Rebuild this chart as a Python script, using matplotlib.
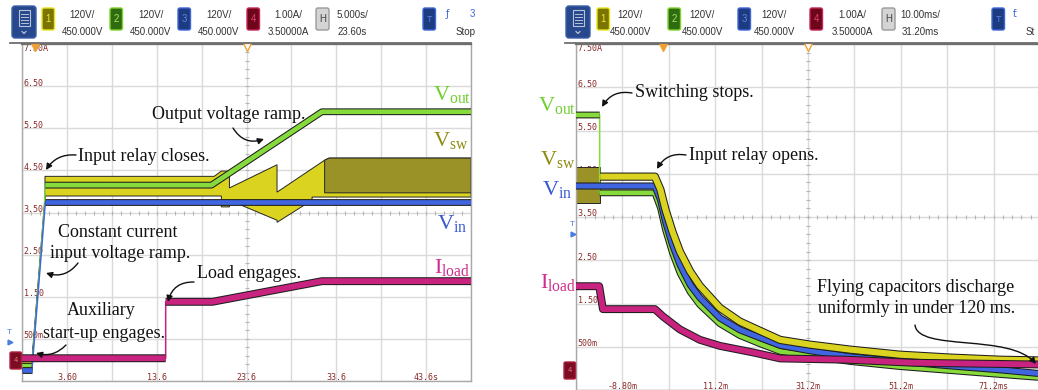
import numpy as np
import matplotlib.pyplot as plt
import matplotlib.patheffects as pe
from matplotlib.patches import FancyBboxPatch, FancyArrowPatch, Rectangle
from matplotlib.path import Path

W, H = 1038, 390

plt.rcParams['mathtext.fontset'] = 'custom'
plt.rcParams['mathtext.rm'] = 'Liberation Serif'

# scope setting of the voltage channels: 120 V/div, 450 V offset.
# current channel is 1 A/div, 3.5 A offset -> screen units read directly in A
V_PER_DIV = 120.0
V_OFFSET = 450.0
A_CENTER = 3.5

y_lbl_val = [7.5, 6.5, 5.5, 4.5, 3.5, 2.5, 1.5, 0.5]
y_lbl_txt = ['7.50A', '6.50', '5.50', '4.50', '3.50', '2.50', '1.50', '500m']

# ---------- left capture: start-up, 5 s/div ----------
A_T0, A_DT = -1.4, 5.0
a_xtick_t = [3.6, 13.6, 23.6, 33.6, 43.6]
a_xtick_lbl = ['3.60', '13.6', '23.6', '33.6', '43.6s']

a_vin_t = [-1.4, -0.3, 1.2, 48.6]
a_vin_v = [0, 0, 480, 480]

a_vout_t = [-1.4, -0.3, 1.1, 1.2, 19.7, 32.0, 48.6]
a_vout_v = [12, 12, 470, 528, 528, 737, 737]

a_vsw_top_t = [-1.4, -0.3, 1.16, 1.16, 20.0, 20.8, 21.7, 21.7, 27.0, 27.0, 32.3, 32.8, 48.6]
a_vsw_top_v = [30, 30, 495, 553, 553, 568, 568, 520, 586, 508, 599, 605, 605]
a_vsw_bot_t = [-1.4, -0.3, 1.16, 1.16, 20.8, 20.8, 21.7, 21.7, 27.0, 27.0, 30.9, 30.9, 48.6]
a_vsw_bot_v = [18, 18, 482, 497, 497, 466, 466, 485, 428, 422, 485, 494, 494]
# full-switching part of the band (darker on screen)
a_vsw_dark_t = [32.3, 32.8, 48.6]
a_vsw_dark_top = [599, 605, 605]
a_vsw_dark_bot = [506, 506, 506]

a_iload_t = [-1.4, 14.6, 14.6, 19.8, 32.0, 48.6]
a_iload_a = [0.04, 0.04, 1.38, 1.38, 1.87, 1.87]

# ---------- right capture: shut-down, 10 ms/div ----------
B_T0, B_DT = -18.8, 10.0
b_xtick_t = [-8.8, 11.2, 31.2, 51.2, 71.2]
b_xtick_lbl = ['-8.80m', '11.2m', '31.2m', '51.2m', '71.2ms']

b_fall_t = [-1.8, -0.6, 0.5, 2.0, 3.6, 5.8, 7.9, 12.2, 16.5, 20.9, 25.2, 31.6, 40.3, 51.0, 61.8, 72.6, 80.8]
b_vsw_fall = [562, 526, 470, 409, 354, 299, 259, 198, 160, 134, 109, 96, 82, 68, 60, 54, 52]
b_vin_fall = [536, 498, 437, 373, 318, 262, 226, 170, 137, 115, 94, 79, 62, 49, 37, 26, 16]
b_vout_fall = [517, 475, 414, 350, 295, 242, 206, 154, 121, 98, 77, 65, 49, 35, 24, 13, 5]

b_vout_pre_t = [-18.8, -13.7, -13.7]
b_vout_pre_v = [733, 733, 517]
b_vin_pre_t = [-18.8]
b_vin_pre_v = [536]
b_vsw_pre_t = [-13.6]
b_vsw_pre_v = [562]
b_vsw_band_t = [-18.8, -13.7]
b_vsw_band_top = [590, 590]
b_vsw_band_bot = [490, 490]

b_iload_t = [-18.8, -13.8, -13.0, -1.8, -0.05, 3.6, 7.9, 12.2, 19.3, 25.2, 39.6, 53.8, 80.8]
b_iload_a = [1.9, 1.9, 1.37, 1.37, 1.2, 0.9, 0.66, 0.52, 0.37, 0.23, 0.20, 0.13, 0.09]

YEL = '#dad31f'
OLIVE = '#9a9226'
GRN = '#86da3c'
BLU = '#3f66e0'
MAG = '#c8237f'
TICKRED = '#8b2a2a'


def to_div(v):
    return A_CENTER + (np.asarray(v, float) - V_OFFSET) / V_PER_DIV


fig = plt.figure(figsize=(W / 100, H / 100), dpi=100)


def scope_axes(rect, t0, dt, xt, xl, top_pad):
    ax = fig.add_axes(rect)
    ax.set_xlim(t0, t0 + 10 * dt)
    ax.set_ylim(-0.5, 7.5)
    ax.set_xticks([t0 + i * dt for i in range(11)])
    ax.set_yticks(np.arange(-0.5, 7.6, 1.0))
    ax.grid(True, color='#dadada', lw=1.0)
    ax.set_axisbelow(True)
    ax.tick_params(length=0, labelbottom=False, labelleft=False)
    for s in ax.spines.values():
        s.set_color('#a8a8a8')
        s.set_linewidth(1.0)
    ax.spines['top'].set_color('#6e6e6e')
    ax.spines['top'].set_linewidth(1.6)
    tc = t0 + 5 * dt
    # small division marks on the centre lines
    ax.plot(t0 + np.arange(1, 50) * dt / 5, np.full(49, 3.5), '|', ms=3.5,
            color='#b5b5b5', mew=0.8, zorder=1)
    ax.plot(np.full(39, tc), -0.5 + np.arange(1, 40) / 5, '_', ms=3.5,
            color='#b5b5b5', mew=0.8, zorder=1)
    yt = ax.get_yaxis_transform()
    for val, s in zip(y_lbl_val, y_lbl_txt):
        yy = val - top_pad if val == 7.5 else val + 0.07
        ax.text(0.004, yy, s, transform=yt, color=TICKRED, fontsize=6,
                family='DejaVu Sans Mono', ha='left', va='center', zorder=2)
    for t, s in zip(xt, xl):
        ax.text(t, -0.41, s, color=TICKRED, fontsize=6, family='DejaVu Sans Mono',
                ha='center', va='center', zorder=2)
    # trigger markers at the top edge
    ax.plot(0, 7.43, 'v', color='#f0a030', ms=5.5, clip_on=False, zorder=8)
    ax.plot(tc, 7.43, 'v', mfc='white', mec='#f0a030', ms=5.5, mew=1.0, clip_on=False, zorder=8)
    return ax


def trace(ax, t, y, color, lw=3.6, z=3):
    t = np.asarray(t, float)
    y = np.asarray(y, float)
    pts = ax.transData.transform(np.column_stack([t, y]))
    ax.plot(t, y, color=color, lw=1.1, zorder=z)
    tt, yy = [t[0]], [y[0]]
    for i in range(1, len(t)):
        dx = abs(pts[i, 0] - pts[i - 1, 0])
        dy = abs(pts[i, 1] - pts[i - 1, 1])
        if dy > 8 * max(dx, 1e-6):  # steep jumps stay thin like on the scope
            tt.append(np.nan)
            yy.append(np.nan)
        tt.append(t[i])
        yy.append(y[i])
    ax.plot(tt, yy, color=color, lw=lw, solid_capstyle='butt', zorder=z,
            path_effects=[pe.Stroke(linewidth=lw + 1.5, foreground='#1e1e1e'), pe.Normal()])


def band(ax, t_top, v_top, t_bot, v_bot, color, z=2):
    xs = np.r_[t_top, t_bot[::-1]]
    ys = np.r_[to_div(v_top), to_div(v_bot)[::-1]]
    ax.fill(xs, ys, facecolor=color, edgecolor='#262626', lw=0.7, zorder=z)


# ---------- left panel ----------
ax1 = scope_axes([22 / W, 1 - 381 / H, 449 / W, 337 / H], A_T0, A_DT,
                 a_xtick_t, a_xtick_lbl, 0.1)
band(ax1, a_vsw_top_t, a_vsw_top_v, a_vsw_bot_t, a_vsw_bot_v, YEL)
band(ax1, a_vsw_dark_t, a_vsw_dark_top, a_vsw_dark_t, a_vsw_dark_bot, OLIVE, z=2.1)
trace(ax1, a_vout_t, to_div(a_vout_v), GRN, lw=3.4, z=3)
trace(ax1, a_vin_t, to_div(a_vin_v), BLU, lw=3.4, z=4)
trace(ax1, a_iload_t, a_iload_a, MAG, lw=4.2, z=5)

# ---------- right panel ----------
ax2 = scope_axes([576 / W, 0, 464 / W, 346 / H], B_T0, B_DT,
                 b_xtick_t, b_xtick_lbl, 0.1)
band(ax2, b_vsw_band_t, b_vsw_band_top, b_vsw_band_t, b_vsw_band_bot, OLIVE)
trace(ax2, b_vout_pre_t + b_fall_t, to_div(b_vout_pre_v + b_vout_fall), GRN, lw=3.4, z=3)
trace(ax2, b_vin_pre_t + b_fall_t, to_div(b_vin_pre_v + b_vin_fall), BLU, lw=3.6, z=4)
trace(ax2, b_vsw_pre_t + b_fall_t, to_div(b_vsw_pre_v + b_vsw_fall), YEL, lw=4.4, z=4.5)
trace(ax2, b_iload_t, b_iload_a, MAG, lw=4.2, z=5)

# ---------- overlay in pixel coordinates ----------
ov = fig.add_axes([0, 0, 1, 1], zorder=10)
ov.set_xlim(0, W)
ov.set_ylim(H, 0)
ov.axis('off')

CH_BOX = [('1', '#7b7500', '#e6e619', '#e8e83a'),
          ('2', '#2f6b10', '#7fd32a', '#a6e35a'),
          ('3', '#1d3b80', '#3f66d8', '#5b84e8'),
          ('4', '#6d0618', '#c8235a', '#e0407a')]
CH_TXT = [('120V/', '450.000V'), ('120V/', '450.000V'), ('120V/', '450.000V'),
          ('1.00A/', '3.50000A')]


def rbox(x, y, w, h, fc, ec, r=2.0, lw=1.0):
    ov.add_patch(FancyBboxPatch((x, y), w, h, boxstyle=f'round,pad=0,rounding_size={r}',
                                fc=fc, ec=ec, lw=lw))


def toolbar(menu_x, box_x, txt_x, h_x, h_txt_x, h_txt, t_x, line_x0, line_x1):
    rbox(menu_x, 6, 24, 32, '#27488c', '#3a5fa8', r=3)
    ov.add_patch(Rectangle((menu_x + 6.5, 10), 11, 16, fill=False, ec='#b8c2d8', lw=0.8))
    for yy in [14, 17, 20, 23]:
        ov.plot([menu_x + 8.5, menu_x + 15.5], [yy, yy], color='#b8c2d8', lw=0.7)
    ov.plot([menu_x + 10, menu_x + 12, menu_x + 14], [31.5, 33.5, 31.5], color='#c8d0e0', lw=0.8)
    for (lab, fc, ec, tcol), bx, tx, (l1, l2) in zip(CH_BOX, box_x, txt_x, CH_TXT):
        rbox(bx, 8, 12.5, 22, fc, ec)
        ov.text(bx + 6.2, 19, lab, color=tcol, fontsize=7, ha='center', va='center',
                family='Liberation Sans')
        ov.text(tx, 15, l1, color='#333333', fontsize=7, ha='center', va='center',
                family='Liberation Sans')
        ov.text(tx, 32, l2, color='#333333', fontsize=7, ha='center', va='center',
                family='Liberation Sans')
    rbox(h_x, 8, 13, 22, '#d4d4d4', '#9a9a9a')
    ov.text(h_x + 6.5, 19, 'H', color='#444444', fontsize=7, ha='center', va='center',
            family='Liberation Sans')
    ov.text(h_txt_x, 15, h_txt[0], color='#333333', fontsize=7, ha='center', va='center',
            family='Liberation Sans')
    ov.text(h_txt_x, 32, h_txt[1], color='#333333', fontsize=7, ha='center', va='center',
            family='Liberation Sans')
    rbox(t_x, 8, 12.5, 22, '#1d3b80', '#3f66d8')
    ov.text(t_x + 6.2, 19, 'T', color='#5b84e8', fontsize=6.5, ha='center', va='center',
            family='Liberation Sans')
    ov.plot([line_x0, line_x1], [43.3, 43.3], color='#707070', lw=1.3)


toolbar(12, [42, 110, 178, 247], [82, 151, 219, 288], 316, 352, ('5.000s/', '23.60s'), 423, 10, 471)
ov.text(447, 14, 'ƒ', color='#3f66d8', fontsize=7, ha='center', va='center')
ov.text(472, 14, '3', color='#3f66d8', fontsize=7, ha='center', va='center', family='Liberation Sans')
ov.text(466, 32, 'Stop', color='#333333', fontsize=7, ha='center', va='center', family='Liberation Sans')

toolbar(566, [597, 668, 738, 810], [630, 702, 774, 852], 882, 920, ('10.00ms/', '31.20ms'), 992, 565, 1038)
ov.text(1015, 14, 'ƭ', color='#3f66d8', fontsize=7, ha='center', va='center')
# the screenshot is cropped through the word "Stop" here
ov.text(1026, 32, 'St', color='#333333', fontsize=7, ha='left', va='center', family='Liberation Sans')

# side markers (trigger level and channel-4 ground)
for (tx, ty), (gx, gy) in [((9, 333), (10, 352)), ((572, 225), (564, 362))]:
    ov.text(tx, ty, 'T', color='#4a7ee0', fontsize=6, ha='center', va='center', family='Liberation Sans')
    ov.plot(tx + 1, ty + 9, '>', ms=3.5, color='#4a7ee0')
    rbox(gx, gy, 11.5, 17, '#7a0d22', '#b02040', r=1.5)
    ov.text(gx + 5.7, gy + 8.5, '4', color='#e07090', fontsize=5, ha='center', va='center')

# channel labels
SERIF = 'Liberation Serif'
LBL = [(433, 100, 'V$_{\\mathrm{out}}$', '#6fcf2e'),
       (433, 146, 'V$_{\\mathrm{sw}}$', '#8e8b12'),
       (437, 229, 'V$_{\\mathrm{in}}$', '#3557d0'),
       (434, 273, 'I$_{\\mathrm{load}}$', '#d12d8f'),
       (538, 111, 'V$_{\\mathrm{out}}$', '#6fcf2e'),
       (540, 165, 'V$_{\\mathrm{sw}}$', '#8e8b12'),
       (542, 195, 'V$_{\\mathrm{in}}$', '#3557d0'),
       (540, 288, 'I$_{\\mathrm{load}}$', '#d12d8f')]
for x, y, s, c in LBL:
    ov.text(x, y, s, color=c, fontsize=16, family=SERIF, ha='left', va='baseline')

# annotation text
NOTES = [(152, 119, 'Output voltage ramp.', 'left'),
         (78, 161, 'Input relay closes.', 'left'),
         (58, 237, 'Constant current', 'left'),
         (50, 258, 'input voltage ramp.', 'left'),
         (197, 278, 'Load engages.', 'left'),
         (67, 315, 'Auxiliary', 'left'),
         (43, 338, 'start-up engages.', 'left'),
         (635, 97, 'Switching stops.', 'left'),
         (689, 160, 'Input relay opens.', 'left'),
         (916, 292, 'Flying capacitors discharge', 'center'),
         (917, 313, 'uniformly in under 120 ms.', 'center')]
for x, y, s, ha in NOTES:
    ov.text(x, y, s, color='#111111', fontsize=13, family=SERIF, ha=ha, va='baseline')

ARROWS = [((233, 128), (264, 139), 0.4),
          ((76, 155), (46, 170), 0.3),
          ((78, 263), (46, 273), -0.35),
          ((194, 282), (168, 302), 0.4),
          ((66, 345), (36, 353), -0.3),
          ((632, 93), (602, 107), 0.35),
          ((686, 155), (657, 169), 0.35)]
for tail, head, rad in ARROWS:
    ov.annotate('', xy=head, xytext=tail,
                arrowprops=dict(arrowstyle='-|>', connectionstyle=f'arc3,rad={rad}',
                                color='#111111', lw=1.0, mutation_scale=9,
                                shrinkA=0, shrinkB=0))

s_path = Path([(915, 325), (918, 352), (1010, 333), (1036, 364)],
              [Path.MOVETO, Path.CURVE4, Path.CURVE4, Path.CURVE4])
ov.add_patch(FancyArrowPatch(path=s_path, arrowstyle='-|>', mutation_scale=9,
                             color='#111111', lw=1.0))

fig.savefig('out.png', dpi=100)
